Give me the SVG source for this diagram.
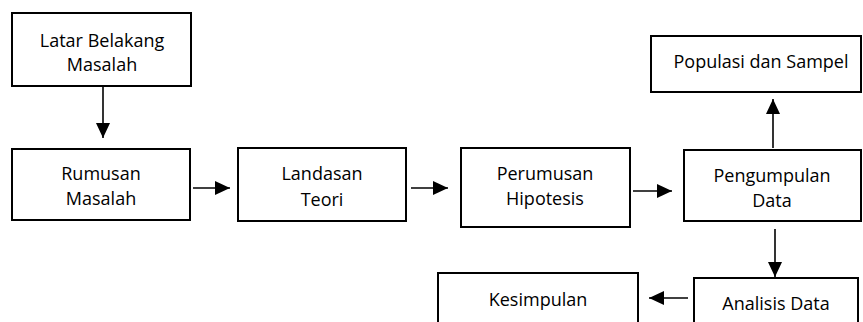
<svg xmlns="http://www.w3.org/2000/svg" width="863" height="322" viewBox="0 0 863 322">
<style>
.box{fill:#fff;stroke:#000;stroke-width:2}
.t{font-family:"Open Sans","Liberation Sans",sans-serif;font-size:18px;fill:#000;text-anchor:middle}
.c{stroke:#000;stroke-width:1.6;fill:none;marker-end:url(#ah)}
</style>
<defs>
<marker id="ah" markerUnits="userSpaceOnUse" markerWidth="16" markerHeight="16" viewBox="0 0 16 16" refX="15" refY="8" orient="auto">
<path d="M0,1 L15,8 L0,15 Z" fill="#000"/>
</marker>
</defs>
<rect width="863" height="322" fill="#fff"/>
<g id="connectors">
<line class="c" x1="103" y1="87" x2="103" y2="138"/>
<line class="c" x1="193" y1="188" x2="230" y2="188"/>
<line class="c" x1="411" y1="188" x2="448" y2="188"/>
<line class="c" x1="633" y1="191" x2="672" y2="191"/>
<line class="c" x1="773" y1="148" x2="773" y2="99"/>
<line class="c" x1="775" y1="229" x2="775" y2="277"/>
<line class="c" x1="688" y1="298" x2="649" y2="298"/>
</g>
<g id="latar"><rect class="box" x="12" y="13" width="179" height="73"/><text class="t" x="102" y="47">Latar Belakang</text><text class="t" x="102" y="71">Masalah</text></g>
<g id="rumusan"><rect class="box" x="12" y="149" width="178" height="71"/><text class="t" x="101" y="180">Rumusan</text><text class="t" x="101" y="205">Masalah</text></g>
<g id="landasan"><rect class="box" x="238" y="148" width="168" height="73"/><text class="t" x="322" y="180">Landasan</text><text class="t" x="322" y="206">Teori</text></g>
<g id="perumusan"><rect class="box" x="461" y="148" width="169" height="79"/><text class="t" x="545" y="180">Perumusan</text><text class="t" x="545" y="205">Hipotesis</text></g>
<g id="pengumpulan"><rect class="box" x="684" y="150" width="177" height="71"/><text class="t" x="772" y="182">Pengumpulan</text><text class="t" x="772" y="207">Data</text></g>
<g id="populasi"><rect class="box" x="651" y="36" width="210" height="56"/><text class="t" x="761" y="68">Populasi dan Sampel</text></g>
<g id="analisis"><rect class="box" x="694" y="278" width="164" height="60"/><text class="t" x="776" y="310">Analisis Data</text></g>
<g id="kesimpulan"><rect class="box" x="438" y="273" width="200" height="60"/><text class="t" x="538" y="306">Kesimpulan</text></g>
</svg>
